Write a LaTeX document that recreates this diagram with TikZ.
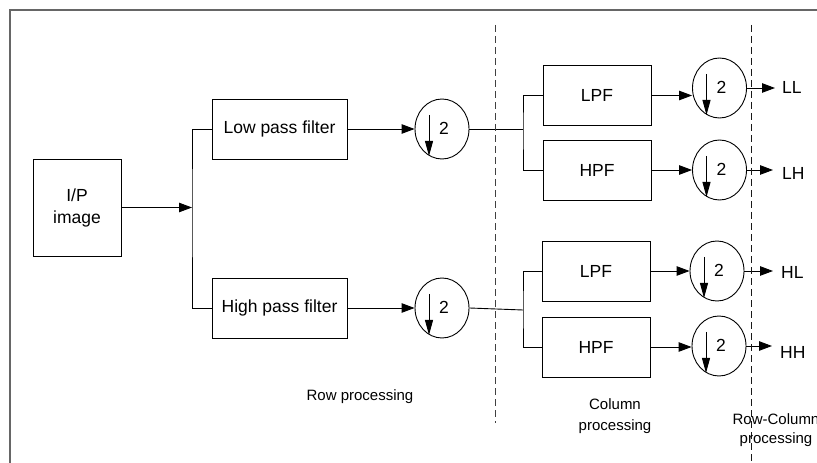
\documentclass[tikz,border=0pt]{standalone}
\usepackage{fontspec}
\setmainfont{Liberation Sans}
\usetikzlibrary{arrows.meta,shapes.geometric,calc}
\begin{document}
\begin{tikzpicture}[x=1bp,y=-1bp,
  wire/.style={line width=0.9bp,black},
  arr/.style={wire,-{Triangle[length=13bp,width=9.5bp]}},
  inarr/.style={wire,-{Triangle[length=15bp,width=8bp]}},
  frame/.style={line width=1.6bp,black!60},
  sepline/.style={line width=1bp,black!75,dash pattern=on 7bp off 4bp},
  bigbox/.style={draw,line width=0.9bp,minimum width=135bp,minimum height=60bp,inner sep=0pt,font=\fontsize{17.5bp}{21bp}\selectfont},
  smallbox/.style={draw,line width=0.9bp,minimum width=108bp,minimum height=60bp,inner sep=0pt,font=\fontsize{17.5bp}{21bp}\selectfont},
  ds/.style={draw,ellipse,line width=0.9bp,minimum width=54bp,minimum height=60bp,inner sep=0pt},
  txt/.style={inner sep=0pt,font=\fontsize{17.5bp}{21bp}\selectfont},
  note/.style={inner sep=0pt,align=center,font=\fontsize{15bp}{21bp}\selectfont}
]
\useasboundingbox (0,0) rectangle (817,463);
\draw[frame] (10,480) -- (10,10) -- (840,10);

% input
\node[draw,line width=0.9bp,minimum width=88bp,minimum height=97bp,inner sep=0pt,align=center,
      font=\fontsize{17.5bp}{22bp}\selectfont] (ip) at (77,207.5) {I/P\\image};
\node[bigbox] (lpf) at (279.5,129) {Low pass filter};
\node[bigbox] (hpf) at (279.5,308) {High pass filter};
\coordinate (j0) at (192,207.5);
\draw[arr] (ip.east) -- (j0);
\draw[wire] (lpf.west) -| (j0) |- (hpf.west);

% row downsamplers
\node[ds] (d1) at (442,129) {};
\node[ds] (d2) at (442,308) {};
\draw[arr] (lpf) -- (d1);
\draw[arr] (hpf) -- (d2);

% column stage, upper
\coordinate (j1) at (523,129);
\draw[wire] (d1.east) -- (j1);
\node[smallbox] (lpfa) at (597,95.5) {LPF};
\node[smallbox] (hpfa) at (597,170) {HPF};
\draw[wire] (lpfa.west) -| (j1) |- (hpfa.west);

% column stage, lower
\coordinate (j2) at (523,310);
\draw[wire] (d2.east) -- (j2);
\node[smallbox] (lpfb) at (596,271) {LPF};
\node[smallbox] (hpfb) at (596,347) {HPF};
\draw[wire] (lpfb.west) -| (j2) |- (hpfb.west);

% column downsamplers
\node[ds] (ll) at (719.5,88) {};
\node[ds] (lh) at (719.5,170) {};
\node[ds] (hl) at (717,271) {};
\node[ds] (hh) at (719,346) {};
\draw[arr] (lpfa.east) -- (lpfa.east -| ll.west);
\draw[arr] (hpfa) -- (lh);
\draw[arr] (lpfb) -- (hl);
\draw[arr] (hpfb.east) -- (hpfb.east -| hh.west);

% symbols inside downsamplers
\foreach \n in {d1,d2,ll,lh,hl,hh} {
  \draw[inarr] ($(\n.center)+(-13,-14)$) -- ($(\n.center)+(-13,27)$);
  \node[txt] (\n-two) at ($(\n.center)+(2,-1)$) {2};
}

% outputs
\node[txt,anchor=west] (LLt) at (782,87) {LL};
\node[txt,anchor=west] (LHt) at (782,173) {LH};
\node[txt,anchor=west] (HLt) at (781,272) {HL};
\node[txt,anchor=west] (HHt) at (780,352) {HH};
\draw[arr,shorten >=7bp] (ll.east) -- (ll.east -| LLt.west);
\draw[arr,shorten >=9bp] (lh.east) -- (lh.east -| LHt.west);
\draw[arr,shorten >=8bp] (hl.east) -- (hl.east -| HLt.west);
\draw[arr,shorten >=8bp] (hh.east) -- (hh.east -| HHt.west);

% separators
\coordinate (s1a) at (495,25);
\coordinate (s1b) at (495,423);
\coordinate (s2a) at (751,25);
\coordinate (s2b) at (751,470);
\draw[sepline] (s1a) -- (s1b);
\draw[sepline,black!90] (s2a) -- (s2b);

% stage labels
\node[note] (rowp) at (360,397) {Row processing};
\node[note] (colp) at (615,416) {Column\\processing};
\node[note,font=\fontsize{15bp}{18.5bp}\selectfont] (rcp) at (776,430) {Row-Column\\processing};
\end{tikzpicture}
\end{document}
